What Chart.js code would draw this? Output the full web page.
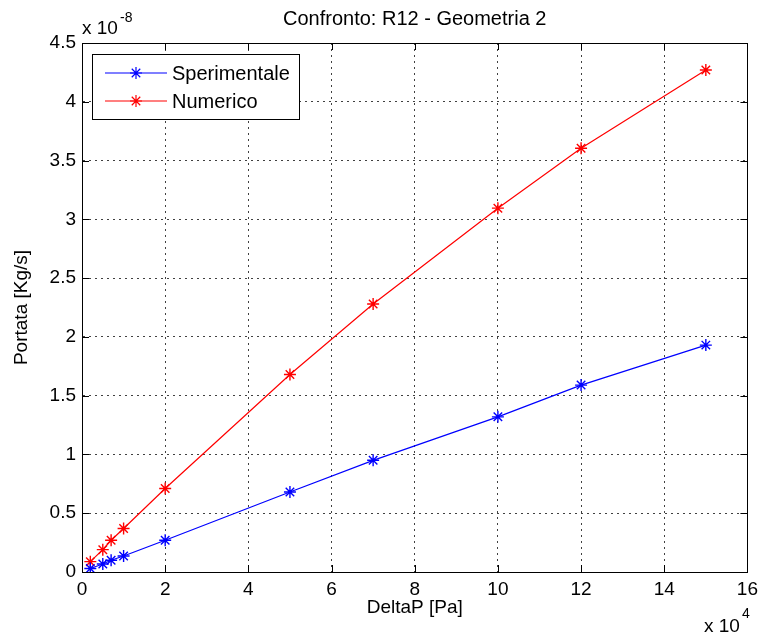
<!DOCTYPE html>
<html>
<head>
<meta charset="utf-8">
<script src="https://cdn.jsdelivr.net/npm/chart.js@4"></script>
<style>
  body { margin: 0; background: #fff; }
</style>
</head>
<body>
<canvas id="chart" width="764" height="638"></canvas>
<script>
// DeltaP in units of 1e4 Pa, Portata in units of 1e-8 Kg/s
const deltaP = [0.2, 0.5, 0.7, 1, 2, 5, 7, 10, 12, 15];
const sperimentale = [0.03, 0.068, 0.10, 0.136, 0.27, 0.68, 0.95, 1.32, 1.59, 1.93];
const numerico = [0.088, 0.19, 0.27, 0.37, 0.71, 1.68, 2.28, 3.095, 3.605, 4.27];
const seriesLabels = ['Sperimentale', 'Numerico'];
const seriesColors = ['#0000ff', '#ff0000'];

const FONT = '"Liberation Sans", Arial, sans-serif';
const FS = 19;

function toPoints(xs, ys) {
  return xs.map((x, i) => ({ x: x, y: ys[i] }));
}

// frame, inward ticks, texts and legend, MATLAB style
const matlabAxes = {
  id: 'matlabAxes',
  afterDraw(chart) {
    const ctx = chart.ctx;
    const a = chart.chartArea;
    const xs = chart.scales.x;
    const ys = chart.scales.y;
    ctx.save();

    ctx.strokeStyle = '#000';
    ctx.lineWidth = 1;
    ctx.beginPath();
    xs.ticks.forEach(t => {
      const px = Math.round(xs.getPixelForValue(t.value)) + 0.5;
      ctx.moveTo(px, a.bottom); ctx.lineTo(px, a.bottom - 7);
      ctx.moveTo(px, a.top); ctx.lineTo(px, a.top + 7);
    });
    ys.ticks.forEach(t => {
      const py = Math.round(ys.getPixelForValue(t.value)) + 0.5;
      ctx.moveTo(a.left, py); ctx.lineTo(a.left + 7, py);
      ctx.moveTo(a.right, py); ctx.lineTo(a.right - 7, py);
    });
    ctx.stroke();
    ctx.strokeRect(Math.round(a.left) + 0.5, Math.round(a.top) + 0.5,
      Math.round(a.right - a.left), Math.round(a.bottom - a.top));

    ctx.fillStyle = '#000';
    ctx.font = '20px ' + FONT;
    ctx.textBaseline = 'middle';

    // title
    ctx.textAlign = 'center';
    ctx.fillText('Confronto: R12 - Geometria 2', (a.left + a.right) / 2, 19);
    ctx.font = FS + 'px ' + FONT;
    // x axis title
    ctx.fillText('DeltaP [Pa]', (a.left + a.right) / 2, 608);
    // y axis title
    ctx.save();
    ctx.translate(22, (a.top + a.bottom) / 2);
    ctx.rotate(-Math.PI / 2);
    ctx.fillText('Portata [Kg/s]', 0, 0);
    ctx.restore();

    // exponents
    ctx.textAlign = 'left';
    ctx.fillText('x 10', a.left, 29);
    ctx.font = '14px ' + FONT;
    ctx.fillText('-8', a.left + 38, 18);
    ctx.font = FS + 'px ' + FONT;
    ctx.fillText('x 10', 704, 627);
    ctx.font = '14px ' + FONT;
    ctx.fillText('4', 742, 614);

    // legend
    const lx = 92, ly = 54, lw = 207, lh = 65;
    ctx.fillStyle = '#fff';
    ctx.fillRect(lx, ly, lw, lh);
    ctx.strokeStyle = '#000';
    ctx.lineWidth = 1;
    ctx.strokeRect(lx + 0.5, ly + 0.5, lw, lh);
    chart.data.datasets.forEach((ds, i) => {
      const y = 73 + i * 28;
      ctx.strokeStyle = ds.borderColor;
      ctx.lineWidth = 1.2;
      ctx.beginPath();
      ctx.moveTo(105, y); ctx.lineTo(167, y);
      ctx.stroke();
      Chart.helpers.drawPoint(ctx, {
        pointStyle: 'star', radius: 6, borderWidth: 1.4, rotation: 0
      }, 136, y);
      ctx.fillStyle = '#000';
      ctx.font = '20px ' + FONT;
      ctx.fillText(ds.label, 172, y + 1);
    });

    ctx.restore();
  }
};

const gridOpts = {
  color: 'rgba(0,0,0,0.75)',
  lineWidth: 1,
  drawTicks: false
};

new Chart(document.getElementById('chart'), {
  type: 'line',
  data: {
    datasets: [
      {
        label: seriesLabels[0],
        data: toPoints(deltaP, sperimentale),
        borderColor: seriesColors[0],
        backgroundColor: seriesColors[0],
        borderWidth: 1.2,
        pointStyle: 'star',
        pointRadius: 6,
        pointBorderWidth: 1.4,
        fill: false,
        tension: 0
      },
      {
        label: seriesLabels[1],
        data: toPoints(deltaP, numerico),
        borderColor: seriesColors[1],
        backgroundColor: seriesColors[1],
        borderWidth: 1.2,
        pointStyle: 'star',
        pointRadius: 6,
        pointBorderWidth: 1.4,
        fill: false,
        tension: 0
      }
    ]
  },
  options: {
    responsive: false,
    animation: false,
    layout: { padding: { top: 43, right: 11, left: 0, bottom: 0 } },
    plugins: {
      legend: { display: false },
      title: { display: false },
      tooltip: { enabled: false }
    },
    scales: {
      x: {
        type: 'linear',
        min: 0,
        max: 16,
        ticks: {
          stepSize: 2,
          color: '#000',
          padding: 6,
          maxRotation: 0,
          font: { family: FONT, size: FS },
          callback: v => String(v)
        },
        grid: gridOpts,
        border: { display: true, color: '#000', dash: [2, 4] },
        afterFit: s => { s.height = 66; }
      },
      y: {
        type: 'linear',
        min: 0,
        max: 4.5,
        ticks: {
          stepSize: 0.5,
          color: '#000',
          padding: 6,
          font: { family: FONT, size: FS },
          callback: v => String(v)
        },
        grid: gridOpts,
        border: { display: true, color: '#000', dash: [2, 4] },
        afterFit: s => { s.width = 82; }
      }
    }
  },
  plugins: [matlabAxes]
});
</script>
</body>
</html>
